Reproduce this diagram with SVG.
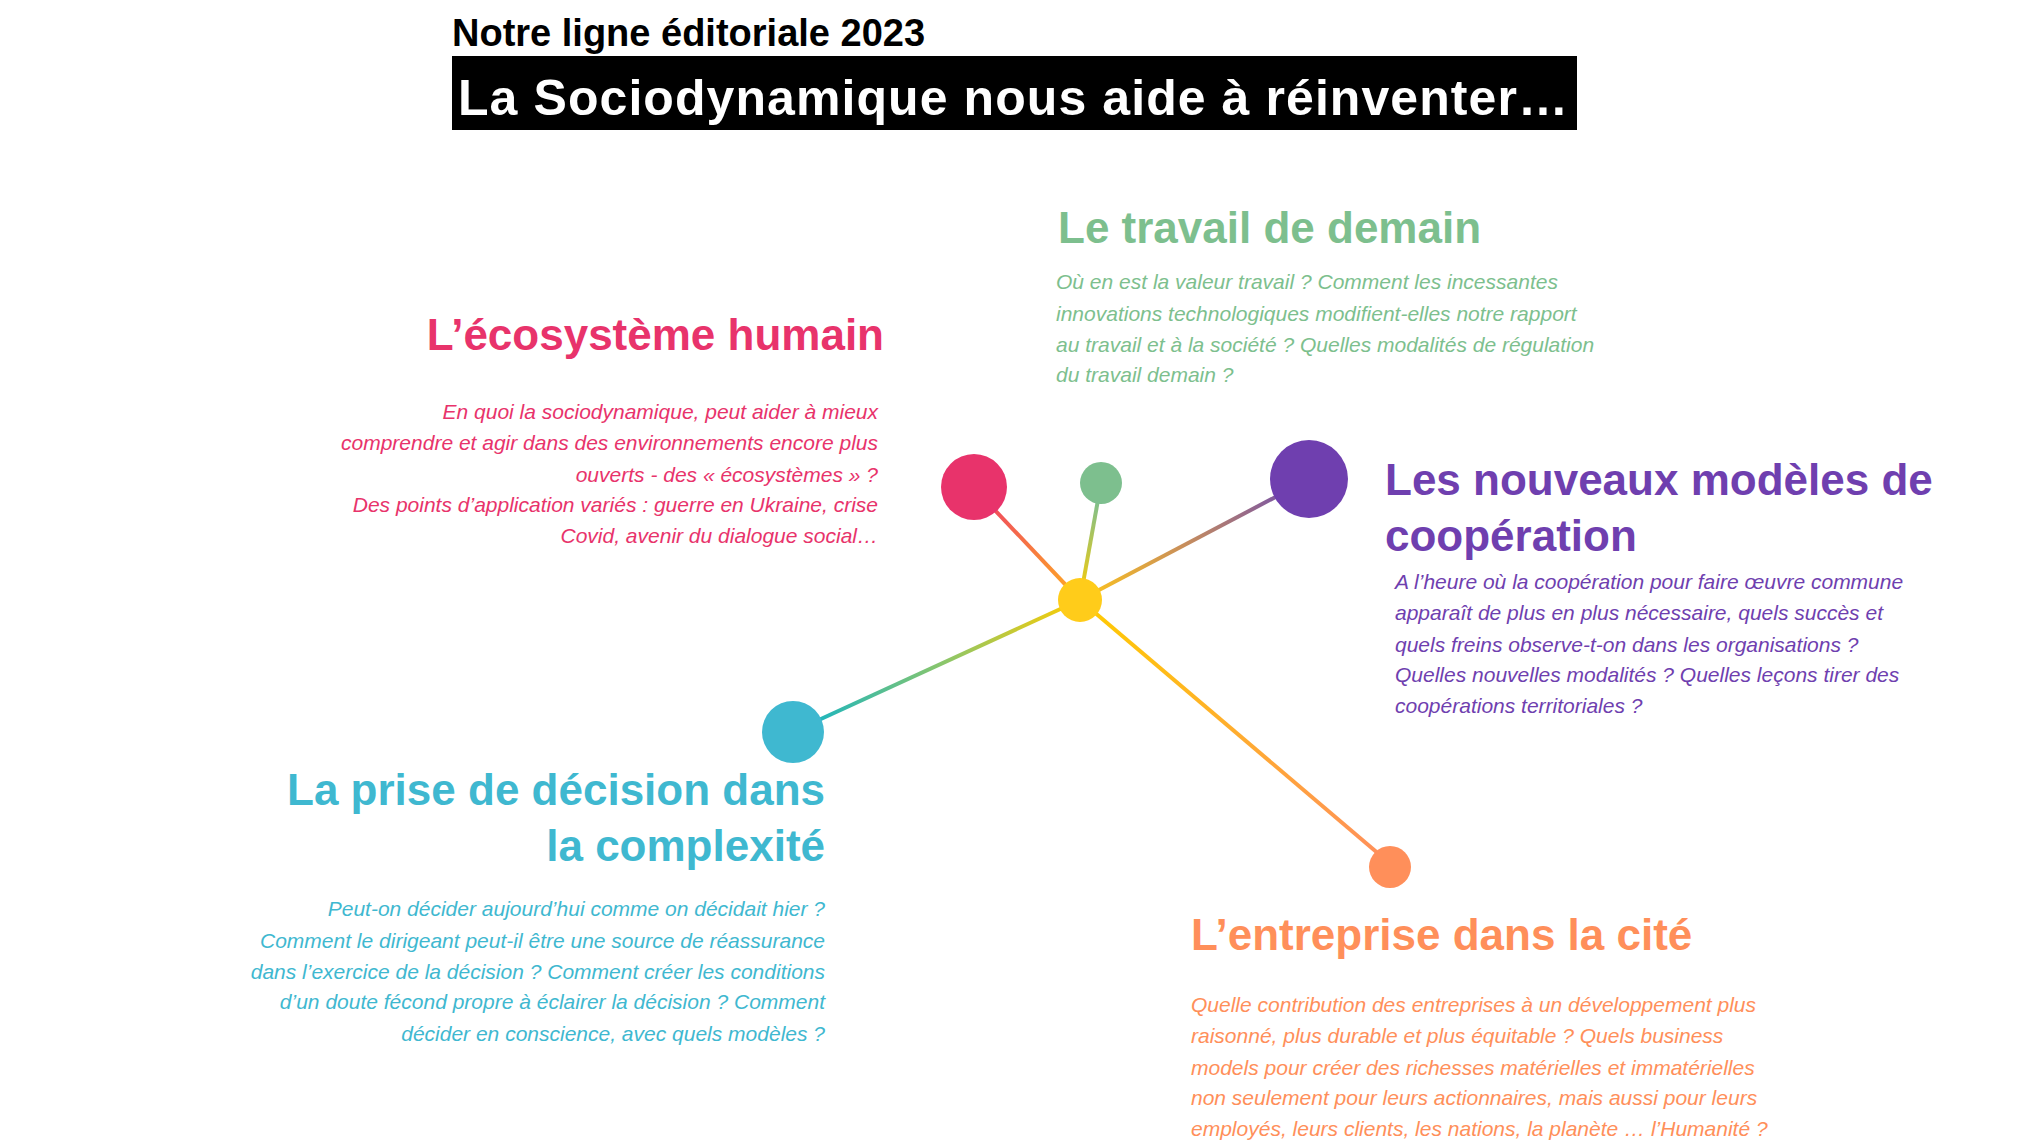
<svg xmlns="http://www.w3.org/2000/svg" width="2042" height="1148" viewBox="0 0 2042 1148">
<style>
.h{font-family:"Liberation Sans",Arial,sans-serif;font-weight:bold;font-size:44px}
.b{font-family:"Liberation Sans",Arial,sans-serif;font-style:italic;font-size:21px}
.r{text-anchor:end}
.ln{stroke-width:4;fill:none}
</style>
<defs>
<linearGradient id="gp" gradientUnits="userSpaceOnUse" x1="990" y1="505" x2="1080" y2="600"><stop offset="0" stop-color="#F04A5E"/><stop offset="1" stop-color="#FFB020"/></linearGradient>
<linearGradient id="gg" gradientUnits="userSpaceOnUse" x1="1098" y1="500" x2="1080" y2="600"><stop offset="0" stop-color="#7DBF8E"/><stop offset="1" stop-color="#FFCC00"/></linearGradient>
<linearGradient id="gv" gradientUnits="userSpaceOnUse" x1="1285" y1="492" x2="1080" y2="600"><stop offset="0" stop-color="#7A55A5"/><stop offset="0.5" stop-color="#C98F5A"/><stop offset="1" stop-color="#FFC61A"/></linearGradient>
<linearGradient id="gt" gradientUnits="userSpaceOnUse" x1="810" y1="724" x2="1080" y2="600"><stop offset="0" stop-color="#1AB5C0"/><stop offset="0.5" stop-color="#8CC66A"/><stop offset="1" stop-color="#FFCC00"/></linearGradient>
<linearGradient id="go" gradientUnits="userSpaceOnUse" x1="1080" y1="600" x2="1380" y2="855"><stop offset="0" stop-color="#FFCC00"/><stop offset="1" stop-color="#FF905A"/></linearGradient>
</defs>
<rect width="2042" height="1148" fill="#fff"/>
<g id="title">
<text x="452" y="46" font-family="Liberation Sans,Arial,sans-serif" font-weight="bold" font-size="38" fill="#000">Notre ligne éditoriale 2023</text>
<rect x="452" y="56" width="1125" height="74" fill="#000"/>
<text x="458" y="115" font-family="Liberation Sans,Arial,sans-serif" font-weight="bold" font-size="50" fill="#fff" textLength="1110">La Sociodynamique nous aide à réinventer…</text>
</g>
<g id="connectors">
<line class="ln" x1="990" y1="505" x2="1080" y2="600" stroke="url(#gp)"/>
<line class="ln" x1="1098" y1="500" x2="1080" y2="600" stroke="url(#gg)"/>
<line class="ln" x1="1285" y1="492" x2="1080" y2="600" stroke="url(#gv)"/>
<line class="ln" x1="810" y1="724" x2="1080" y2="600" stroke="url(#gt)"/>
<line class="ln" x1="1080" y1="600" x2="1380" y2="855" stroke="url(#go)"/>
</g>
<g id="center"><circle cx="1080" cy="600" r="22" fill="#FFCC1A"/></g>
<g id="ecosysteme" fill="#E8336B">
<circle cx="974" cy="487" r="33"/>
<text class="h r" x="884" y="350">L’écosystème humain</text>
<text class="b r" x="878" y="419">En quoi la sociodynamique, peut aider à mieux</text>
<text class="b r" x="878" y="450">comprendre et agir dans des environnements encore plus</text>
<text class="b r" x="878" y="482">ouverts - des « écosystèmes » ?</text>
<text class="b r" x="878" y="512">Des points d’application variés : guerre en Ukraine, crise</text>
<text class="b r" x="878" y="543">Covid, avenir du dialogue social…</text>
</g>
<g id="travail" fill="#7DBF8E">
<circle cx="1101" cy="483" r="21"/>
<text class="h" x="1058" y="243" font-size="40">Le travail de demain</text>
<text class="b" x="1056" y="289">Où en est la valeur travail ? Comment les incessantes</text>
<text class="b" x="1056" y="321">innovations technologiques modifient-elles notre rapport</text>
<text class="b" x="1056" y="352">au travail et à la société ? Quelles modalités de régulation</text>
<text class="b" x="1056" y="382">du travail demain ?</text>
</g>
<g id="cooperation" fill="#6F3FAF">
<circle cx="1309" cy="479" r="39"/>
<text class="h" x="1385" y="495">Les nouveaux modèles de</text>
<text class="h" x="1385" y="551">coopération</text>
<text class="b" x="1395" y="589">A l’heure où la coopération pour faire œuvre commune</text>
<text class="b" x="1395" y="620">apparaît de plus en plus nécessaire, quels succès et</text>
<text class="b" x="1395" y="652">quels freins observe-t-on dans les organisations ?</text>
<text class="b" x="1395" y="682">Quelles nouvelles modalités ? Quelles leçons tirer des</text>
<text class="b" x="1395" y="713">coopérations territoriales ?</text>
</g>
<g id="decision" fill="#3FB8D0">
<circle cx="793" cy="732" r="31"/>
<text class="h r" x="825" y="805">La prise de décision dans</text>
<text class="h r" x="825" y="861">la complexité</text>
<text class="b r" x="825" y="916">Peut-on décider aujourd’hui comme on décidait hier ?</text>
<text class="b r" x="825" y="948">Comment le dirigeant peut-il être une source de réassurance</text>
<text class="b r" x="825" y="979">dans l’exercice de la décision ? Comment créer les conditions</text>
<text class="b r" x="825" y="1009">d’un doute fécond propre à éclairer la décision ? Comment</text>
<text class="b r" x="825" y="1041">décider en conscience, avec quels modèles ?</text>
</g>
<g id="entreprise" fill="#FF8F5A">
<circle cx="1390" cy="867" r="21"/>
<text class="h" x="1191" y="950">L’entreprise dans la cité</text>
<text class="b" x="1191" y="1012">Quelle contribution des entreprises à un développement plus</text>
<text class="b" x="1191" y="1043">raisonné, plus durable et plus équitable ? Quels business</text>
<text class="b" x="1191" y="1075">models pour créer des richesses matérielles et immatérielles</text>
<text class="b" x="1191" y="1105">non seulement pour leurs actionnaires, mais aussi pour leurs</text>
<text class="b" x="1191" y="1136">employés, leurs clients, les nations, la planète … l’Humanité ?</text>
</g>
</svg>
